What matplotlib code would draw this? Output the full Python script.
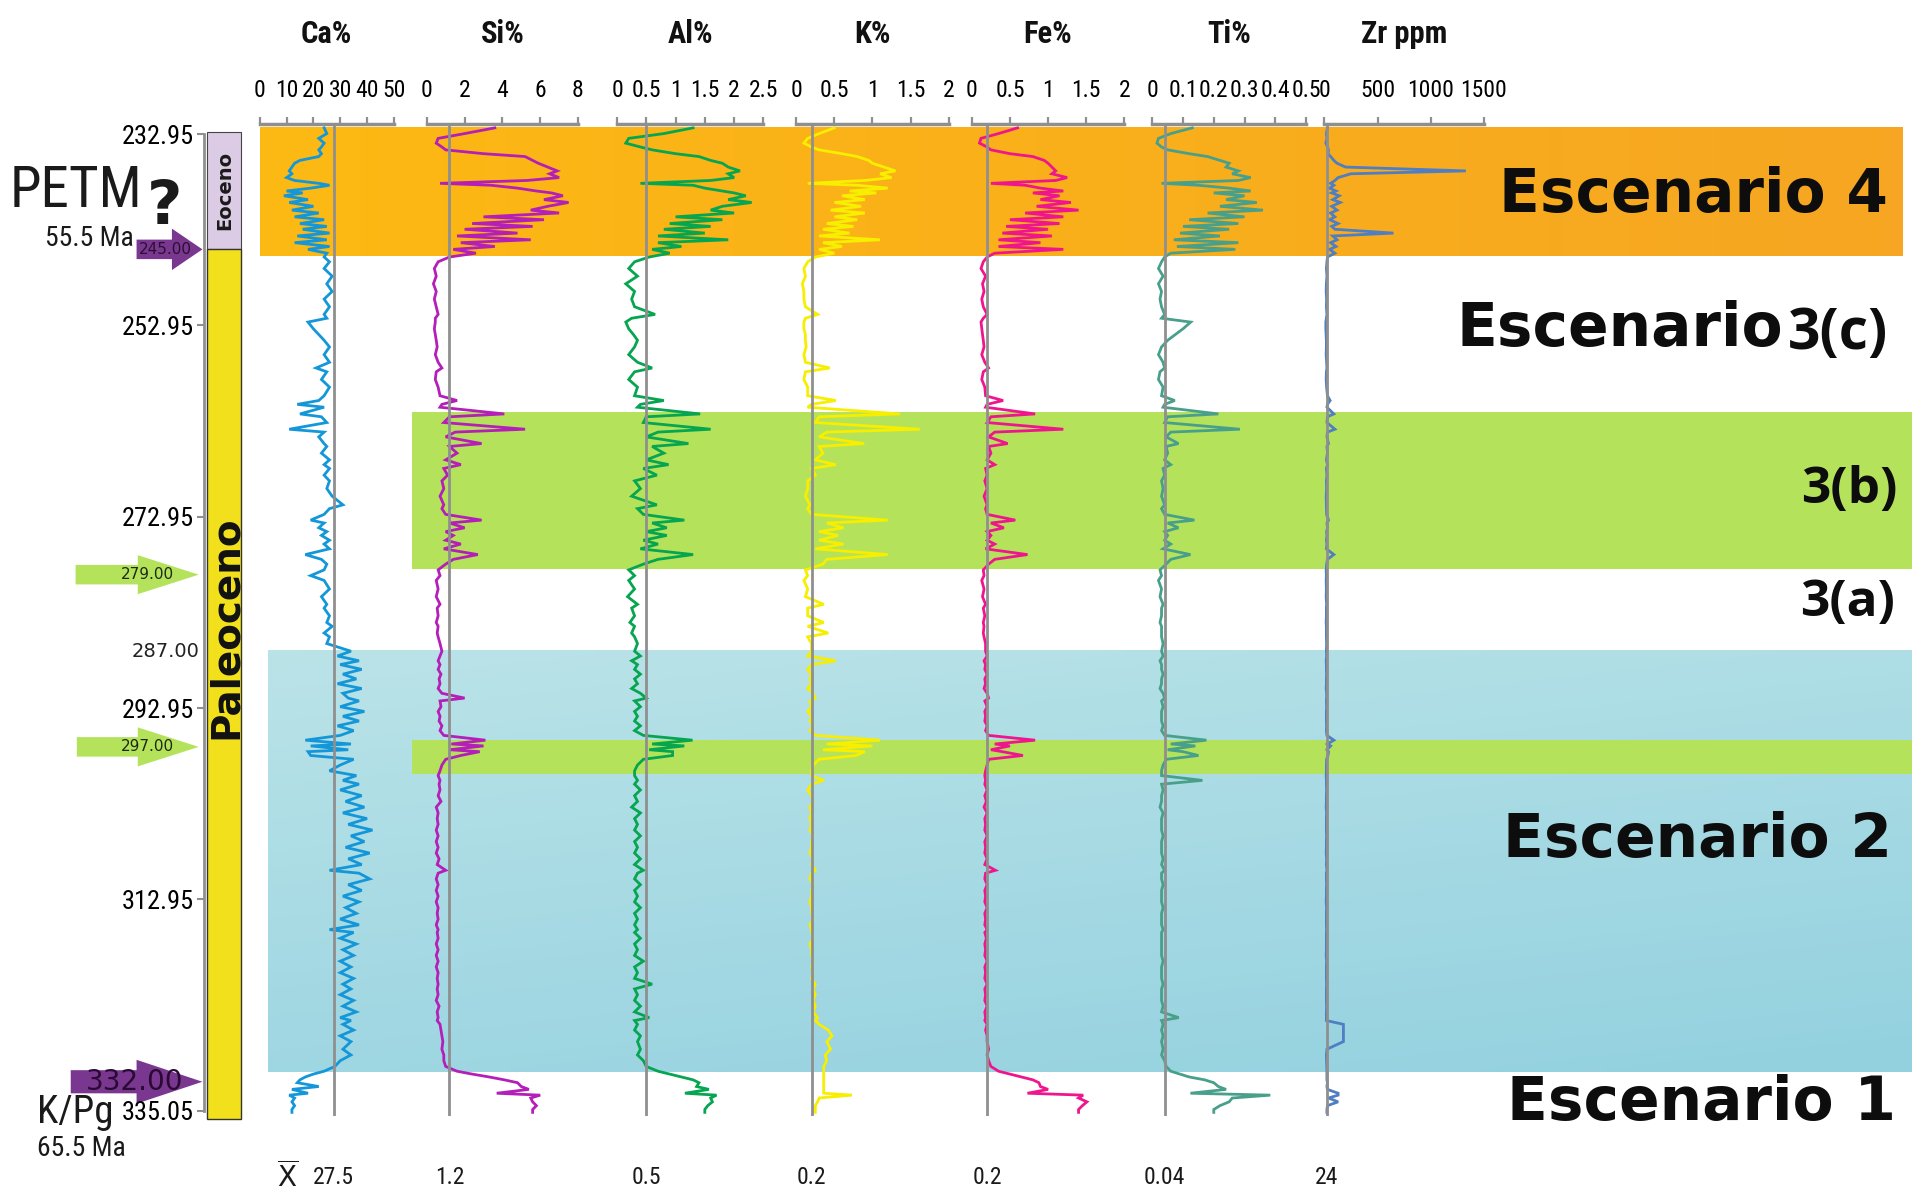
import numpy as np
import matplotlib
matplotlib.use("Agg")
import matplotlib.pyplot as plt
import matplotlib.font_manager as fm
from matplotlib.patches import Rectangle, Polygon
from matplotlib.colors import LinearSegmentedColormap

# ------------------------------------------------------------------
# Geochemical logs (sample depth in m, shared by every element)
# ------------------------------------------------------------------
DEPTH = [
    232.3, 232.9, 233.4, 233.9, 234.3, 234.6, 235.0, 235.3, 235.7, 236.0,
    236.4, 236.8, 237.1, 237.5, 237.8, 238.1, 238.3, 238.6, 238.9, 239.1,
    239.4, 239.8, 240.1, 240.5, 240.9, 241.2, 241.6, 241.9, 242.3, 242.6,
    242.9, 243.3, 243.6, 244.0, 244.3, 244.7, 245.0, 245.4, 245.8, 246.3,
    247.0, 247.8, 248.6, 249.4, 250.2, 251.0, 251.8, 252.2, 252.6, 253.3,
    253.9, 254.5, 255.2, 256.0, 256.8, 257.4, 257.8, 258.6, 259.4, 260.3,
    260.8, 261.2, 261.5, 262.2, 262.5, 263.1, 263.8, 264.1, 264.6, 265.3,
    265.6, 266.3, 267.0, 267.5, 267.9, 268.6, 269.2, 270.0, 270.8, 271.7,
    272.1, 272.7, 273.3, 273.6, 274.1, 274.5, 274.9, 275.4, 275.8, 276.3,
    276.9, 277.4, 277.9, 278.5, 279.1, 279.6, 280.5, 281.3, 282.1, 282.5,
    283.3, 284.0, 284.4, 285.1, 285.5, 286.2, 287.0, 287.5, 288.0, 288.4,
    288.9, 289.4, 289.9, 290.4, 290.9, 291.4, 291.9, 292.2, 292.8, 293.3,
    293.8, 294.3, 294.8, 295.3, 295.8, 296.3, 296.7, 296.9, 297.3, 297.5,
    297.9, 298.3, 298.9, 299.5, 300.0, 300.5, 300.9, 301.5, 302.1, 302.7,
    303.3, 303.9, 304.5, 305.1, 305.7, 306.3, 306.9, 307.5, 308.1, 308.7,
    309.3, 309.9, 310.2, 310.8, 311.4, 312.0, 312.6, 313.2, 313.8, 314.4,
    315.0, 315.6, 316.1, 316.4, 317.0, 317.6, 318.2, 318.8, 319.4, 320.0,
    320.6, 321.2, 321.8, 322.3, 322.9, 323.5, 324.1, 324.7, 325.3, 325.6,
    326.0, 326.6, 327.2, 327.8, 328.6, 329.2, 329.8, 330.4, 330.9, 331.2,
    331.5, 331.8, 332.1, 332.5, 332.8, 333.2, 333.4, 333.7, 334.1, 334.5,
    334.9, 335.2,
]

CA = [
    24, 25, 22, 24, 23, 22, 23, 22, 15, 13,
    12, 11, 12, 10, 13, 22, 26, 19, 10, 16,
    9, 18, 11, 20, 12, 22, 13, 24, 15, 25,
    16, 26, 14, 25, 13, 26, 18, 25, 24, 26,
    24, 27, 25, 27, 24, 26, 24, 25, 18, 20,
    22, 24, 26, 24, 26, 21, 25, 23, 26, 24,
    22, 14, 24, 15, 23, 25, 11, 24, 22, 24,
    25, 23, 26, 24, 26, 24, 26, 25, 27, 31,
    26, 24, 19, 24, 22, 25, 23, 26, 24, 26,
    17, 23, 25, 24, 19, 24, 26, 23, 25, 24,
    26, 25, 27, 24, 26, 25, 34, 29, 37, 30,
    38, 31, 36, 29, 38, 31, 33, 37, 30, 39,
    31, 37, 29, 35, 30, 17, 34, 19, 33, 18,
    19, 35, 30, 26, 36, 31, 37, 30, 38, 32,
    39, 31, 40, 33, 42, 34, 39, 32, 41, 33,
    38, 26, 37, 41, 33, 38, 31, 37, 32, 36,
    30, 37, 26, 35, 30, 36, 31, 35, 30, 34,
    30, 35, 31, 34, 30, 35, 31, 36, 30, 34,
    31, 35, 30, 34, 31, 34, 30, 28, 24, 20,
    17, 15, 14, 22, 12, 18, 11, 13, 12, 13,
    12, 12,
]

SI = [
    3.6, 2.0, 0.6, 0.5, 0.8, 1.0, 3.0, 5.2, 5.6, 5.9,
    6.4, 6.9, 6.5, 7.0, 5.3, 0.7, 3.4, 4.8, 5.8, 6.6,
    7.2, 6.2, 7.5, 6.4, 5.5, 7.0, 3.0, 6.2, 2.4, 5.6,
    2.0, 4.8, 1.6, 5.5, 1.8, 3.6, 1.4, 2.6, 1.2, 0.6,
    0.4, 0.5, 0.35, 0.5, 0.4, 0.5, 0.6, 0.45, 0.45, 0.4,
    0.45, 0.5, 0.55, 0.45, 0.6, 0.8, 0.5, 0.45, 0.6, 0.7,
    1.6, 0.8, 0.7, 4.1, 1.2, 0.9, 5.2, 1.5, 1.0, 2.9,
    1.2, 1.6, 1.0, 1.8, 0.9, 1.1, 0.8, 0.9, 0.7, 0.9,
    0.8, 1.0, 2.9, 1.2, 2.0, 1.0, 1.4, 1.0, 1.8, 0.9,
    2.7, 1.4, 1.0, 0.6, 0.7, 0.5, 0.6, 0.5, 0.7, 0.55,
    0.6, 0.5, 0.6, 0.55, 0.6, 0.7, 0.8, 0.7, 0.6, 0.7,
    0.6, 0.75, 0.65, 0.7, 0.6, 0.8, 2.0, 0.7, 0.75, 0.6,
    0.7, 0.65, 0.8, 0.7, 0.9, 3.1, 1.3, 3.0, 1.2, 2.8,
    1.8, 1.0, 0.8, 0.7, 0.6, 0.7, 0.65, 0.7, 0.6, 0.75,
    0.5, 0.6, 0.55, 0.6, 0.5, 0.6, 0.5, 0.6, 0.5, 0.65,
    0.55, 1.0, 0.6, 0.5, 0.6, 0.5, 0.6, 0.5, 0.6, 0.55,
    0.6, 0.5, 0.6, 0.55, 0.6, 0.5, 0.6, 0.5, 0.6, 0.5,
    0.6, 0.55, 0.6, 0.55, 0.6, 0.5, 0.65, 0.55, 0.6, 0.55,
    0.7, 0.75, 0.8, 0.85, 0.8, 0.9, 0.9, 1.0, 1.6, 2.4,
    3.3, 4.1, 4.8, 5.0, 5.4, 3.7, 6.0, 5.5, 5.6, 5.8,
    5.6, 5.6,
]

AL = [
    1.3, 0.8, 0.2, 0.15, 0.4, 0.6, 1.0, 1.4, 1.6, 1.8,
    1.9, 2.1, 1.9, 2.0, 1.6, 0.4, 1.3, 1.5, 1.8, 2.0,
    2.2, 1.9, 2.3, 1.8, 1.6, 2.0, 1.0, 1.8, 0.9, 1.6,
    0.8, 1.5, 0.7, 1.9, 0.7, 1.1, 0.6, 0.9, 0.55, 0.3,
    0.2, 0.35, 0.15, 0.3, 0.25, 0.3, 0.65, 0.25, 0.15, 0.2,
    0.28, 0.35, 0.3, 0.2, 0.35, 0.6, 0.3, 0.2, 0.35, 0.3,
    0.8, 0.4, 0.35, 1.42, 0.5, 0.45, 1.6, 0.7, 0.5, 1.22,
    0.6, 0.8, 0.5, 0.88, 0.45, 0.68, 0.3, 0.4, 0.25, 0.68,
    0.35, 0.45, 1.15, 0.6, 0.85, 0.5, 0.85, 0.45, 0.7, 0.4,
    1.3, 0.7, 0.45, 0.2, 0.3, 0.2, 0.3, 0.18, 0.35, 0.25,
    0.3, 0.22, 0.3, 0.25, 0.3, 0.35, 0.3, 0.4, 0.25, 0.35,
    0.3, 0.4, 0.3, 0.35, 0.25, 0.4, 0.5, 0.3, 0.4, 0.3,
    0.35, 0.3, 0.4, 0.3, 0.45, 1.29, 0.6, 1.15, 0.55, 0.95,
    0.95, 0.45, 0.35, 0.3, 0.3, 0.35, 0.3, 0.4, 0.3, 0.35,
    0.25, 0.4, 0.3, 0.35, 0.3, 0.4, 0.3, 0.35, 0.3, 0.4,
    0.3, 0.45, 0.35, 0.3, 0.4, 0.3, 0.35, 0.3, 0.4, 0.3,
    0.35, 0.3, 0.35, 0.3, 0.4, 0.3, 0.35, 0.3, 0.45, 0.3,
    0.35, 0.3, 0.6, 0.3, 0.35, 0.3, 0.4, 0.3, 0.55, 0.3,
    0.35, 0.3, 0.4, 0.35, 0.4, 0.35, 0.45, 0.5, 0.7, 0.9,
    1.1, 1.3, 1.4, 1.36, 1.57, 1.16, 1.7, 1.6, 1.63, 1.55,
    1.5, 1.5,
]

K = [
    0.5, 0.3, 0.15, 0.1, 0.2, 0.3, 0.6, 0.8, 0.95, 1.0,
    1.15, 1.3, 1.1, 1.25, 0.9, 0.15, 0.8, 1.2, 0.7, 1.05,
    0.6, 0.9, 0.5, 0.85, 0.45, 0.9, 0.5, 0.8, 0.4, 0.75,
    0.35, 0.7, 0.3, 1.1, 0.35, 0.6, 0.3, 0.5, 0.25, 0.15,
    0.1, 0.12, 0.08, 0.1, 0.1, 0.12, 0.28, 0.12, 0.1, 0.1,
    0.12, 0.12, 0.13, 0.1, 0.12, 0.44, 0.12, 0.1, 0.15, 0.15,
    0.52, 0.2, 0.15, 1.36, 0.3, 0.25, 1.62, 0.4, 0.3, 0.89,
    0.3, 0.35, 0.25, 0.52, 0.2, 0.25, 0.15, 0.15, 0.12, 0.18,
    0.15, 0.2, 1.2, 0.4, 0.62, 0.3, 0.55, 0.3, 0.62, 0.25,
    1.2, 0.4, 0.35, 0.12, 0.15, 0.1, 0.15, 0.12, 0.36, 0.15,
    0.15, 0.36, 0.15, 0.42, 0.15, 0.2, 0.2, 0.15, 0.52, 0.2,
    0.15, 0.2, 0.18, 0.2, 0.15, 0.22, 0.25, 0.18, 0.2, 0.15,
    0.2, 0.18, 0.22, 0.18, 0.25, 1.1, 0.4, 1.0, 0.35, 0.9,
    0.78, 0.3, 0.22, 0.2, 0.2, 0.36, 0.2, 0.15, 0.2, 0.22,
    0.18, 0.2, 0.18, 0.2, 0.18, 0.22, 0.2, 0.2, 0.18, 0.22,
    0.2, 0.25, 0.2, 0.18, 0.22, 0.2, 0.2, 0.18, 0.2, 0.2,
    0.22, 0.18, 0.2, 0.2, 0.22, 0.18, 0.2, 0.2, 0.22, 0.2,
    0.22, 0.2, 0.25, 0.22, 0.25, 0.22, 0.25, 0.22, 0.28, 0.25,
    0.3, 0.42, 0.47, 0.4, 0.45, 0.38, 0.4, 0.36, 0.36, 0.36,
    0.36, 0.36, 0.36, 0.36, 0.36, 0.36, 0.73, 0.3, 0.28, 0.25,
    0.25, 0.25,
]

FE = [
    0.6, 0.35, 0.12, 0.1, 0.2, 0.25, 0.5, 0.8, 0.95, 1.0,
    1.05, 1.1, 1.05, 1.25, 1.1, 0.25, 0.7, 0.9, 1.2, 0.8,
    1.15, 0.9, 1.3, 0.85, 1.4, 0.7, 1.2, 0.5, 1.15, 0.45,
    1.0, 0.4, 1.05, 0.35, 0.9, 0.35, 1.2, 0.3, 0.2, 0.15,
    0.12, 0.18, 0.14, 0.16, 0.13, 0.15, 0.2, 0.15, 0.12, 0.13,
    0.14, 0.15, 0.16, 0.13, 0.17, 0.22, 0.15, 0.13, 0.17, 0.18,
    0.41, 0.2, 0.18, 0.83, 0.25, 0.2, 1.2, 0.3, 0.22, 0.47,
    0.22, 0.25, 0.2, 0.3, 0.18, 0.2, 0.17, 0.2, 0.16, 0.2,
    0.18, 0.2, 0.57, 0.25, 0.42, 0.2, 0.25, 0.2, 0.3, 0.18,
    0.73, 0.3, 0.22, 0.15, 0.16, 0.13, 0.16, 0.14, 0.18, 0.15,
    0.17, 0.15, 0.16, 0.15, 0.16, 0.18, 0.18, 0.2, 0.16, 0.18,
    0.17, 0.2, 0.17, 0.18, 0.16, 0.2, 0.22, 0.17, 0.2, 0.17,
    0.18, 0.17, 0.2, 0.18, 0.22, 0.83, 0.3, 0.5, 0.25, 0.4,
    0.67, 0.22, 0.2, 0.18, 0.17, 0.18, 0.17, 0.2, 0.17, 0.19,
    0.16, 0.2, 0.17, 0.18, 0.17, 0.2, 0.17, 0.18, 0.17, 0.2,
    0.17, 0.31, 0.18, 0.17, 0.2, 0.17, 0.18, 0.17, 0.2, 0.17,
    0.18, 0.17, 0.2, 0.17, 0.19, 0.17, 0.18, 0.17, 0.2, 0.17,
    0.18, 0.17, 0.2, 0.17, 0.18, 0.17, 0.2, 0.17, 0.18, 0.17,
    0.2, 0.18, 0.2, 0.2, 0.22, 0.2, 0.22, 0.25, 0.35, 0.5,
    0.65, 0.8, 0.88, 0.9, 1.0, 0.73, 1.46, 1.4, 1.51, 1.45,
    1.4, 1.4,
]

TI = [
    0.13, 0.06, 0.02, 0.015, 0.03, 0.05, 0.12, 0.18, 0.22, 0.25,
    0.24, 0.28, 0.26, 0.32, 0.28, 0.03, 0.15, 0.25, 0.32, 0.2,
    0.3, 0.24, 0.34, 0.22, 0.36, 0.18, 0.3, 0.12, 0.28, 0.1,
    0.25, 0.09, 0.22, 0.07, 0.28, 0.08, 0.27, 0.06, 0.04, 0.03,
    0.02, 0.035, 0.02, 0.03, 0.025, 0.03, 0.04, 0.03, 0.125, 0.1,
    0.075, 0.05, 0.03, 0.02, 0.035, 0.04, 0.025, 0.02, 0.035, 0.03,
    0.073, 0.04, 0.035, 0.215, 0.05, 0.04, 0.285, 0.06, 0.045, 0.085,
    0.045, 0.05, 0.04, 0.06, 0.035, 0.04, 0.03, 0.035, 0.03, 0.04,
    0.03, 0.04, 0.137, 0.05, 0.085, 0.04, 0.05, 0.04, 0.06, 0.035,
    0.124, 0.06, 0.045, 0.025, 0.03, 0.02, 0.03, 0.025, 0.035, 0.03,
    0.03, 0.025, 0.03, 0.03, 0.03, 0.035, 0.03, 0.035, 0.025, 0.03,
    0.03, 0.035, 0.03, 0.03, 0.025, 0.035, 0.04, 0.03, 0.035, 0.03,
    0.03, 0.03, 0.035, 0.03, 0.04, 0.176, 0.06, 0.14, 0.05, 0.1,
    0.15, 0.045, 0.035, 0.03, 0.03, 0.163, 0.03, 0.035, 0.03, 0.03,
    0.025, 0.035, 0.03, 0.03, 0.03, 0.035, 0.03, 0.03, 0.03, 0.035,
    0.03, 0.04, 0.03, 0.03, 0.035, 0.03, 0.03, 0.03, 0.035, 0.03,
    0.03, 0.03, 0.035, 0.03, 0.03, 0.03, 0.03, 0.03, 0.035, 0.03,
    0.03, 0.03, 0.035, 0.03, 0.03, 0.03, 0.035, 0.03, 0.086, 0.03,
    0.035, 0.03, 0.035, 0.03, 0.035, 0.03, 0.04, 0.045, 0.06, 0.09,
    0.12, 0.17, 0.2, 0.215, 0.24, 0.124, 0.384, 0.26, 0.25, 0.22,
    0.2, 0.2,
]

ZR = [
    30, 20, 25, 15, 30, 40, 35, 60, 90, 120,
    200, 1330, 250, 130, 100, 60, 90, 50, 110, 70,
    140, 80, 150, 70, 120, 60, 100, 50, 130, 70,
    100, 650, 80, 120, 60, 110, 50, 100, 30, 25,
    20, 25, 20, 18, 22, 20, 25, 20, 15, 15,
    18, 20, 20, 18, 22, 25, 20, 18, 22, 30,
    55, 30, 25, 90, 30, 25, 100, 30, 25, 40,
    25, 30, 20, 30, 20, 25, 20, 22, 18, 20,
    20, 22, 40, 25, 30, 22, 25, 20, 25, 20,
    90, 30, 22, 18, 20, 18, 20, 18, 22, 20,
    20, 18, 20, 20, 20, 22, 20, 22, 18, 20,
    20, 22, 20, 20, 18, 22, 22, 20, 22, 20,
    20, 20, 22, 20, 25, 90, 30, 60, 25, 40,
    35, 22, 20, 20, 18, 20, 20, 22, 20, 20,
    18, 22, 20, 20, 20, 22, 20, 20, 18, 22,
    20, 25, 20, 20, 22, 20, 20, 18, 22, 20,
    20, 20, 22, 20, 20, 20, 20, 18, 22, 20,
    20, 20, 22, 20, 20, 20, 22, 20, 20, 20,
    180, 180, 180, 180, 25, 20, 22, 25, 25, 25,
    25, 25, 30, 25, 30, 130, 130, 40, 130, 30,
    25, 25,
]

ELEMENTS = ["Ca%", "Si%", "Al%", "K%", "Fe%", "Ti%", "Zr ppm"]
X_LIMITS = [(0, 50), (0, 8), (0, 2.5), (0, 2), (0, 2), (0, 0.5), (0, 1500)]
X_TICKS = [
    [0, 10, 20, 30, 40, 50],
    [0, 2, 4, 6, 8],
    [0, 0.5, 1, 1.5, 2, 2.5],
    [0, 0.5, 1, 1.5, 2],
    [0, 0.5, 1, 1.5, 2],
    [0, 0.1, 0.2, 0.3, 0.4, 0.5],
    [0, 500, 1000, 1500],
]
X_TICK_LABELS = [
    ["0", "10", "20", "30", "40", "50"],
    ["0", "2", "4", "6", "8"],
    ["0", "0.5", "1", "1.5", "2", "2.5"],
    ["0", "0.5", "1", "1.5", "2"],
    ["0", "0.5", "1", "1.5", "2"],
    ["0", "0.1", "0.2", "0.3", "0.4", "0.5"],
    ["0", "500", "1000", "1500"],
]
MEANS = [27.5, 1.2, 0.5, 0.2, 0.2, 0.04, 24]
MEAN_LABELS = ["27.5", "1.2", "0.5", "0.2", "0.2", "0.04", "24"]

DEPTH_TICKS = [232.95, 252.95, 272.95, 292.95, 312.95, 335.05]

# scenario bands: top / base depth
BAND_TOP = [232.3, 262.0, 286.9, 296.3]
BAND_BASE = [245.7, 278.4, 331.0, 299.8]

# stratigraphic column
COLUMN_TOP = 232.7
EPOCH_BOUNDARY = 245.0
COLUMN_BASE = 335.9

# depth markers (arrows) and the plain 287.00 marker
MARKER_DEPTHS = [245.0, 279.0, 297.0, 332.0]
MARKER_LABELS = ["245.00", "279.00", "297.00", "332.00"]
MARK_287 = 287.0

SERIES = [CA, SI, AL, K, FE, TI, ZR]

# ------------------------------------------------------------------
# Styling / layout
# ------------------------------------------------------------------
COLORS = ["#1497d9", "#b41fb8", "#06a550", "#f7ee00", "#ef168d", "#48a08a", "#4f7ec3"]
GRAY = "#8f8f8f"

names = {f.name for f in fm.fontManager.ttflist}
NARROW = "DejaVu Sans"
for cand in ["Liberation Sans Narrow", "Arial Narrow", "Roboto Condensed", "Open Sans Condensed"]:
    if cand in names:
        NARROW = cand
        break
NK = dict(family=NARROW, fontstretch="condensed")
WIDE = dict(family="DejaVu Sans")
ROUND = dict(family="Open Sans" if "Open Sans" in names else "DejaVu Sans")

W, H = 1568.0, 978.0          # layout frame
Y_REF, PX_PER_M, D_REF = 110.0, 7.85, 232.95


def fx(u):
    return u / W


def fy(v):
    return 1.0 - v / H


def depth_at(v):
    return D_REF + (v - Y_REF) / PX_PER_M


fig = plt.figure(figsize=(19.12, 11.92), dpi=100)
fig.patch.set_facecolor("white")

# background canvas: x in layout units, y in depth
bg = fig.add_axes([0, 0, 1, 1], zorder=0)
bg.axis("off")

# bands
orange_cm = LinearSegmentedColormap.from_list("orange", ["#fdb913", "#f6a622"])
blue_cm = LinearSegmentedColormap.from_list("sea", ["#bae3e8", "#93d1df"])
gx = np.linspace(0, 1, 64)
bg.imshow(np.tile(gx, (8, 1)), extent=(213, 1560, BAND_BASE[0], BAND_TOP[0]),
          cmap=orange_cm, aspect="auto", zorder=0.5, interpolation="bilinear")
grad = 0.3 * gx[None, :] + 0.7 * gx[:, None]
bg.imshow(grad, extent=(220, 1568, BAND_BASE[2], BAND_TOP[2]),
          cmap=blue_cm, aspect="auto", zorder=0.5, interpolation="bilinear")
for i in (1, 3):
    bg.add_patch(Rectangle((338, BAND_TOP[i]), 1568 - 338, BAND_BASE[i] - BAND_TOP[i],
                           facecolor="#b4e35b", edgecolor="none", zorder=0.6))

# stratigraphic column
bg.add_patch(Rectangle((170, COLUMN_TOP), 28, EPOCH_BOUNDARY - COLUMN_TOP,
                       facecolor="#dccbe4", edgecolor="#444444", lw=0.8, zorder=1))
bg.add_patch(Rectangle((170, EPOCH_BOUNDARY), 28, COLUMN_BASE - EPOCH_BOUNDARY,
                       facecolor="#f1e01b", edgecolor="#333333", lw=1.0, zorder=1))
bg.text(184.5, (COLUMN_TOP + EPOCH_BOUNDARY) / 2, "Eoceno", rotation=90, ha="center",
        va="center", fontsize=14, fontweight="bold", color="#1a1a1a", zorder=2, **WIDE)
bg.text(185, depth_at(515), "Paleoceno", rotation=90, ha="center", va="center",
        fontsize=28, fontweight="bold", color="#111111", zorder=2, **WIDE)


def arrow(x_tail, x_neck, x_tip, d, body, head, color):
    b, h = body / PX_PER_M, head / PX_PER_M
    pts = [(x_tail, d - b), (x_neck, d - b), (x_neck, d - h), (x_tip, d),
           (x_neck, d + h), (x_neck, d + b), (x_tail, d + b)]
    bg.add_patch(Polygon(pts, closed=True, facecolor=color, edgecolor="none", zorder=2))


ARROW_STYLE = [
    dict(x=(112, 141, 166), body=8, head=17, color="#7a3790", tx=136, fs=11, tc="#2a1030"),
    dict(x=(62, 113, 163), body=8, head=16, color="#b4e35b", tx=121, fs=11, tc="#1d2a12"),
    dict(x=(63, 113, 163), body=8, head=16, color="#b4e35b", tx=121, fs=11, tc="#1d2a12"),
    dict(x=(58, 112, 166), body=9.5, head=18, color="#7a3790", tx=110, fs=20, tc="#2a0a35"),
]
for d, lab, st in zip(MARKER_DEPTHS, MARKER_LABELS, ARROW_STYLE):
    arrow(*st["x"], d, st["body"], st["head"], st["color"])
    bg.text(st["tx"], d, lab, ha="center", va="center", fontsize=st["fs"],
            color=st["tc"], zorder=3, **WIDE)

bg.text(164, MARK_287, "287.00", ha="right", va="center", fontsize=14,
        color="#222222", zorder=3, **WIDE)

# left annotations
bg.text(8, depth_at(157), "PETM", ha="left", va="center", fontsize=41, color="#1a1a1a", **NK)
bg.text(135, depth_at(170), "?", ha="center", va="center", fontsize=44,
        fontweight="bold", color="#1a1a1a", **WIDE)
bg.text(110, depth_at(196), "55.5 Ma", ha="right", va="center", fontsize=20, color="#1a1a1a", **NK)
bg.text(30, depth_at(913), "K/Pg", ha="left", va="center", fontsize=28, color="#1a1a1a", **NK)
bg.text(30, depth_at(942), "65.5 Ma", ha="left", va="center", fontsize=20, color="#1a1a1a", **NK)

# scenario labels
SCEN = dict(fontweight="bold", color="#0d0d0d", va="center")
bg.text(1548, depth_at(160), "Escenario 4", fontsize=43, ha="right", **SCEN, **WIDE)
bg.text(1462, depth_at(270), "Escenario", fontsize=43, ha="right", **SCEN, **WIDE)
bg.text(1466, depth_at(274), "3(c)", fontsize=41, ha="left", **SCEN, **ROUND)
bg.text(1556, depth_at(402), "3(b)", fontsize=37, ha="right", **SCEN, **ROUND)
bg.text(1554, depth_at(495), "3(a)", fontsize=37, ha="right", **SCEN, **ROUND)
bg.text(1552, depth_at(690), "Escenario 2", fontsize=43, ha="right", **SCEN, **WIDE)
bg.text(1555, depth_at(905), "Escenario 1", fontsize=43, ha="right", **SCEN, **WIDE)

# mean marker symbol
bg.text(236, depth_at(966), r"$\overline{\mathrm{X}}$", ha="center", va="center",
        fontsize=20, color="#1a1a1a")

bg.set_xlim(0, W)
bg.set_ylim(depth_at(H), depth_at(0))

# depth scale
d_top_v = Y_REF
d_bot_v = Y_REF + (DEPTH_TICKS[-1] - D_REF) * PX_PER_M
dax = fig.add_axes([fx(167), fy(d_bot_v), 0.0005, (d_bot_v - d_top_v) / H], zorder=2)
dax.patch.set_alpha(0)
for s in ("top", "right", "bottom"):
    dax.spines[s].set_visible(False)
dax.spines["left"].set_color(GRAY)
dax.spines["left"].set_linewidth(2.0)
dax.set_ylim(DEPTH_TICKS[-1], D_REF)
dax.set_xticks([])
dax.set_yticks(DEPTH_TICKS)
dax.set_yticklabels([f"{t:.2f}" for t in DEPTH_TICKS], fontsize=19, **NK)
dax.tick_params(axis="y", length=5, width=1.5, color=GRAY, pad=2)

# element tracks
TRACK_SPAN = [(213, 323), (350, 474), (506, 626), (653, 778), (797, 922), (945, 1071), (1086, 1217)]
TOP_V, BOT_V = 102.0, 916.0
for i, (name, vals) in enumerate(zip(ELEMENTS, SERIES)):
    x0, x1 = TRACK_SPAN[i]
    ax = fig.add_axes([fx(x0), fy(BOT_V), (x1 - x0) / W, (BOT_V - TOP_V) / H], zorder=3)
    ax.patch.set_alpha(0)
    ax.plot(vals, DEPTH, color=COLORS[i], lw=2.0, solid_joinstyle="miter",
            clip_on=False, zorder=2)
    ax.axvline(MEANS[i], color=GRAY, lw=2.0, zorder=3)
    ax.set_xlim(*X_LIMITS[i])
    ax.set_ylim(depth_at(BOT_V), depth_at(TOP_V))
    for s in ("left", "right", "bottom"):
        ax.spines[s].set_visible(False)
    ax.spines["top"].set_color(GRAY)
    ax.spines["top"].set_linewidth(2.5)
    ax.xaxis.tick_top()
    ax.set_xticks(X_TICKS[i])
    ax.set_xticklabels(X_TICK_LABELS[i], fontsize=17, **NK)
    ax.tick_params(axis="x", direction="out", length=5, width=1.6, color=GRAY, pad=11)
    ax.set_yticks([])
    fig.text(fx((x0 + x1) / 2), fy(28), name, ha="center", va="center",
             fontsize=22, fontweight="bold", color="#111111", **NK)
    ax.text(MEANS[i], depth_at(966), MEAN_LABELS[i], ha="center", va="center",
            fontsize=17, color="#1a1a1a", **NK)

fig.savefig("out.png", dpi=100)
